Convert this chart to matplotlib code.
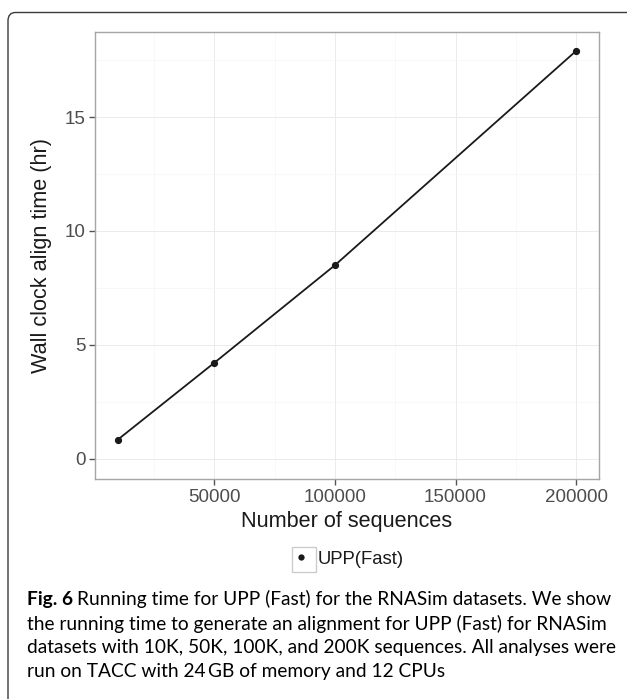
import numpy as np
import matplotlib
matplotlib.use("Agg")
import matplotlib.pyplot as plt
from matplotlib.patches import FancyBboxPatch, Rectangle
from matplotlib.lines import Line2D

# data
n_seqs = [10000, 50000, 100000, 200000]
hours = [0.85, 4.22, 8.5, 17.9]
series_name = "UPP(Fast)"

x_ticks = [50000, 100000, 150000, 200000]
y_ticks = [0, 5, 10, 15]

caption_lines = [
    "Running time for UPP (Fast) for the RNASim datasets. We show",
    "the running time to generate an alignment for UPP (Fast) for RNASim",
    "datasets with 10K, 50K, 100K, and 200K sequences. All analyses were",
    "run on TACC with 24\u2009GB of memory and 12 CPUs",
]

W, H = 627, 699
fig = plt.figure(figsize=(W / 100, H / 100), dpi=100)
plt.rcParams['font.family'] = ['Liberation Sans', 'DejaVu Sans']
cap_font = ["Lato", "DejaVu Sans"]

def fx(px):
    return px / W

def fy(py):
    return 1 - py / H

# outer frame with rounded top-left corner
frame = FancyBboxPatch((fx(8), fy(760)), fx(700), (760 - 12.5) / H,
                       boxstyle="round,pad=0,rounding_size=0.012",
                       transform=fig.transFigure, fill=False,
                       edgecolor="#3a3a3a", lw=1.0, clip_on=False)
fig.patches.append(frame)

ax = fig.add_axes([fx(95), fy(479), fx(599 - 95), (479 - 32) / H])
ax.plot(n_seqs, hours, color="#1a1a1a", lw=1.3, marker="o", ms=4.2,
        label=series_name)

ax.set_xlim(500, 209500)
ax.set_ylim(-0.88, 18.73)
ax.set_xticks(x_ticks)
ax.set_xticklabels([str(v) for v in x_ticks])
ax.set_yticks(y_ticks)
ax.set_xticks([25000, 75000, 125000, 175000], minor=True)
ax.set_yticks([2.5, 7.5, 12.5, 17.5], minor=True)
ax.grid(True, which="major", color="#ebebeb", lw=0.7)
ax.grid(True, which="minor", color="#f5f5f5", lw=0.5)
ax.set_axisbelow(True)
for s in ax.spines.values():
    s.set_color("#a6a6a6")
    s.set_linewidth(1.0)
ax.tick_params(which="major", length=4, width=1.0, color="#555555",
               labelsize=13.5, labelcolor="#4d4d4d", pad=3)
ax.tick_params(which="minor", length=0)

ax.set_xlabel("Number of sequences", fontsize=15.6, color="#1a1a1a", labelpad=4)
ax.set_ylabel("Wall clock align time (hr)", fontsize=15.6, color="#1a1a1a", labelpad=9)

# legend below the panel
handle = Line2D([], [], color="#1a1a1a", marker="o", ms=3.5, ls="none")
fig.legend([handle], [series_name], loc="center", bbox_to_anchor=(fx(349), fy(559)),
           frameon=False, fontsize=13.3, handlelength=0.8, handletextpad=0.5,
           labelcolor="#1a1a1a")
fig.patches.append(Rectangle((fx(292), fy(572)), fx(24), 25 / H,
                             transform=fig.transFigure, fill=False,
                             edgecolor="#cccccc", lw=1.0))

# caption: size chosen so the second line spans the width seen in the reference
cap_y = [599, 624, 648, 672]
probe = fig.text(0, 0, caption_lines[1], fontsize=14, family=cap_font)
fig.canvas.draw()
cap_size = 14 * 583 / probe.get_window_extent().width
probe.remove()

bold = fig.text(fx(27), fy(cap_y[0]), "Fig. 6", fontsize=cap_size, fontweight="bold",
                family=cap_font, va="center", ha="left")
fig.canvas.draw()
bb = bold.get_window_extent()
fig.text(bb.x1 / W + fx(3.5), fy(cap_y[0]), caption_lines[0], fontsize=cap_size,
         family=cap_font, va="center", ha="left")
for yy, line in zip(cap_y[1:], caption_lines[1:]):
    fig.text(fx(27), fy(yy), line, fontsize=cap_size,
             family=cap_font, va="center", ha="left")

fig.savefig("out.png", dpi=100)
